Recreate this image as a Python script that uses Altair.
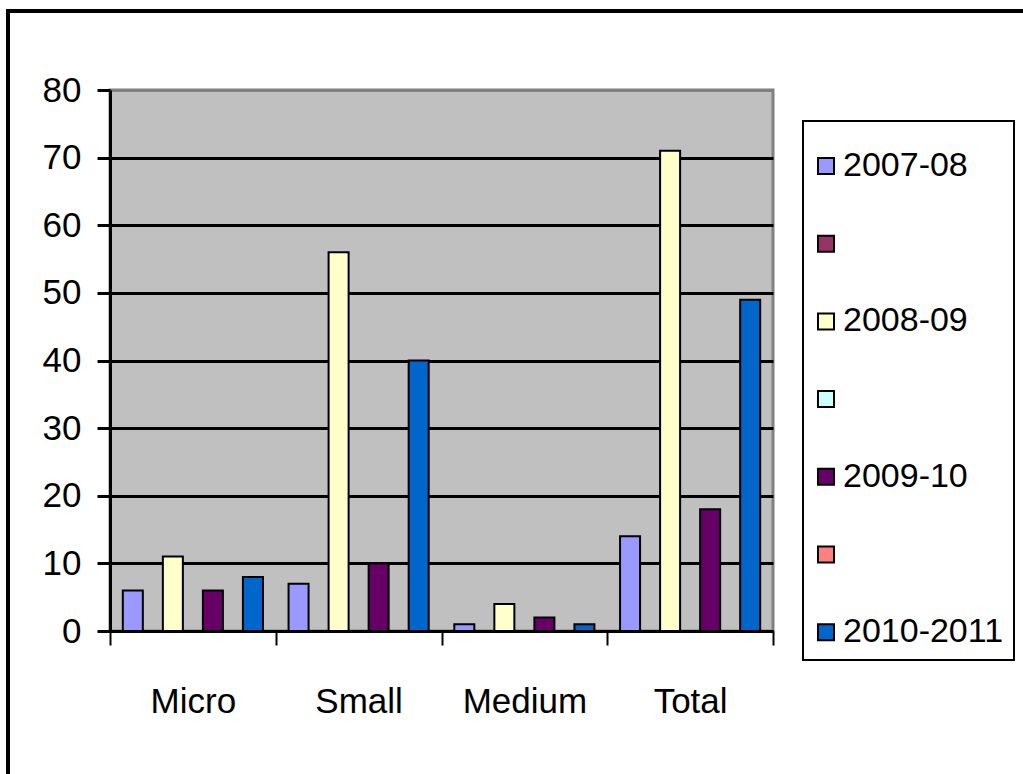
import altair as alt
import pandas as pd

categories = ["Micro", "Small", "Medium", "Total"]
series_keys = ["2007-08", "blank1", "2008-09", "blank2", "2009-10", "blank3", "2010-2011"]
series_colors = ["#9999FF", "#993366", "#FFFFCC", "#CCFFFF", "#660066", "#FF8080", "#0066CC"]
v_2007_08 = [6, 7, 1, 14]
v_2008_09 = [11, 56, 4, 71]
v_2009_10 = [6, 10, 2, 18]
v_2010_2011 = [8, 40, 1, 49]
y_ticks = [0, 10, 20, 30, 40, 50, 60, 70, 80]

rows = []
for name, vals in [("2007-08", v_2007_08), ("2008-09", v_2008_09),
                   ("2009-10", v_2009_10), ("2010-2011", v_2010_2011)]:
    for c, v in zip(categories, vals):
        rows.append({"cat": c, "series": name, "value": v})
df = pd.DataFrame(rows)

FONT = "Liberation Sans, Arial"
W, H = 663, 541
PL, PT = 110, 90

bars = alt.Chart(df).mark_bar(stroke="black", strokeWidth=2).encode(
    x=alt.X("cat:N", sort=categories,
            scale=alt.Scale(paddingInner=0, paddingOuter=0),
            axis=alt.Axis(title=None, labelAngle=0, domainColor="black", domainWidth=3,
                          tickColor="black", tickWidth=2, tickSize=14, tickBand="extent",
                          labelFontSize=35, labelFont=FONT, labelColor="black",
                          labelPadding=39, grid=False)),
    xOffset=alt.XOffset("series:N",
                        scale=alt.Scale(domain=series_keys, paddingInner=0, paddingOuter=0.64)),
    y=alt.Y("value:Q", scale=alt.Scale(domain=[0, 80], nice=False),
            axis=alt.Axis(title=None, values=y_ticks, domainColor="black", domainWidth=3,
                          tickColor="black", tickWidth=3, tickSize=13,
                          labelFontSize=35, labelFont=FONT, labelColor="black",
                          labelPadding=16, grid=True,
                          gridColor=alt.condition("datum.value == 80", alt.value("#808080"), alt.value("black")),
                          gridWidth=3)),
    fill=alt.Fill("series:N",
                  scale=alt.Scale(domain=series_keys, range=series_colors),
                  legend=alt.Legend(title=" ", titleFontSize=4, titlePadding=14,
                                    orient="none", legendX=693, legendY=31,
                                    labelExpr="indexof(datum.label, 'blank') >= 0 ? '' : datum.label",
                                    symbolType="square", symbolSize=256, symbolOffset=-4,
                                    symbolStrokeColor="black", symbolStrokeWidth=2,
                                    labelFontSize=34, labelFont=FONT, labelColor="black",
                                    labelLimit=0, labelOffset=0, rowPadding=43.7, padding=10,
                                    fillColor="white", strokeColor="black")),
)

frame = alt.Chart(pd.DataFrame({"a": [0]})).mark_rect(
    fill=None, stroke="black", strokeWidth=4
).encode(
    x=alt.value(-102), x2=alt.value(1023 - PL + 20),
    y=alt.value(-79), y2=alt.value(774 - PT + 20),
)

chart = alt.layer(bars, frame).properties(
    width=W, height=H,
    autosize=alt.AutoSizeParams(type="none"),
    padding={"left": PL, "top": PT, "right": 1023 - PL - W, "bottom": 774 - PT - H},
    background="white",
).configure_view(
    fill="#C0C0C0", stroke="#808080", strokeWidth=3
).configure_legend(strokeWidth=2)

chart.save("out.html", embed_options={"renderer": "svg", "actions": False})
